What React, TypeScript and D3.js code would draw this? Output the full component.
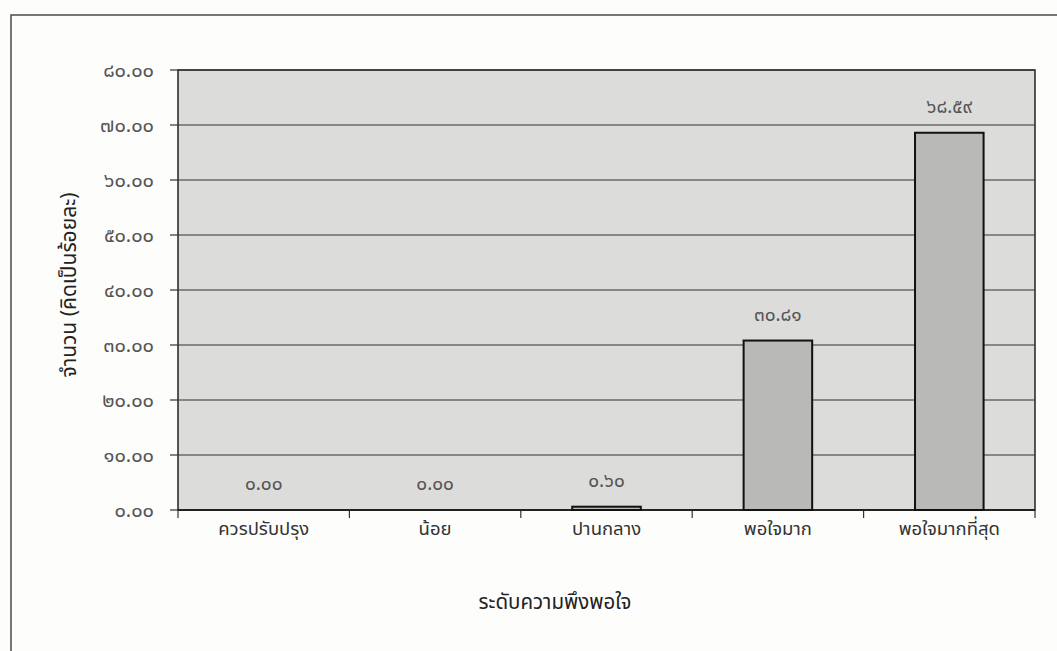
import React from "react";
import * as d3 from "d3";

const categories = ["ควรปรับปรุง", "น้อย", "ปานกลาง", "พอใจมาก", "พอใจมากที่สุด"];
const values = [0.0, 0.0, 0.6, 30.81, 68.59];
const yTicks = [0, 10, 20, 30, 40, 50, 60, 70, 80];
const yTitle = "จำนวน (คิดเป็นร้อยละ)";
const xTitle = "ระดับความพึงพอใจ";

const thaiDigits = "๐๑๒๓๔๕๖๗๘๙";
const toThai = (s: string) => s.replace(/[0-9]/g, (d) => thaiDigits[+d]);

const W = 1057;
const H = 651;
const plot = { left: 178, right: 1035, top: 70, bottom: 510 };
const FONT = "'Noto Sans Thai', 'Noto Sans', 'Loma', 'Garuda', 'Tlwg Typo', 'DejaVu Sans', sans-serif";

export default function App() {
  const x = d3
    .scaleBand<string>()
    .domain(categories)
    .range([plot.left, plot.right])
    .paddingInner(0.6)
    .paddingOuter(0.3);
  const xb = d3.scaleBand<string>().domain(categories).range([plot.left, plot.right]);
  const y = d3.scaleLinear().domain([0, 80]).range([plot.bottom, plot.top]);

  return (
    <svg
      width={W}
      height={H}
      style={{ position: "absolute", left: 0, top: 0, background: "#fdfdfb" }}
      fontFamily={FONT}
    >
      <rect x={11} y={15} width={1100} height={700} fill="none" stroke="#555" strokeWidth={1.6} />
      <rect
        x={plot.left}
        y={plot.top}
        width={plot.right - plot.left}
        height={plot.bottom - plot.top}
        fill="#dcdcda"
        stroke="#222"
        strokeWidth={1.5}
      />
      {yTicks.map((t) => (
        <g key={t}>
          <line x1={plot.left} x2={plot.right} y1={y(t)} y2={y(t)} stroke="#333" strokeWidth={1.2} />
          <line x1={plot.left - 8} x2={plot.left} y1={y(t)} y2={y(t)} stroke="#333" strokeWidth={1.2} />
          <text x={154} y={y(t)} dy="0.35em" textAnchor="end" fontSize={20} fill="#555">
            {toThai(t.toFixed(2))}
          </text>
        </g>
      ))}
      {categories.map((c) => (
        <line
          key={"t" + c}
          x1={xb(c)!}
          x2={xb(c)!}
          y1={plot.bottom}
          y2={plot.bottom + 8}
          stroke="#333"
          strokeWidth={1.2}
        />
      ))}
      <line x1={plot.right} x2={plot.right} y1={plot.bottom} y2={plot.bottom + 8} stroke="#333" strokeWidth={1.2} />
      <line x1={plot.left} x2={plot.right} y1={plot.bottom} y2={plot.bottom} stroke="#222" strokeWidth={2} />
      {categories.map((c, i) =>
        values[i] > 0 ? (
          <rect
            key={"b" + c}
            x={x(c)!}
            y={y(values[i])}
            width={x.bandwidth()}
            height={y(0) - y(values[i])}
            fill="#b9b9b7"
            stroke="#111"
            strokeWidth={2}
          />
        ) : null
      )}
      {categories.map((c, i) => (
        <text
          key={"l" + c}
          x={x(c)! + x.bandwidth() / 2}
          y={y(values[i]) - 20}
          textAnchor="middle"
          fontSize={19}
          fill="#555"
        >
          {toThai(values[i].toFixed(2))}
        </text>
      ))}
      {categories.map((c) => (
        <text
          key={"x" + c}
          x={xb(c)! + xb.bandwidth() / 2}
          y={535}
          textAnchor="middle"
          fontSize={18.5}
          fill="#333"
        >
          {c}
        </text>
      ))}
      <text x={555} y={609} textAnchor="middle" fontSize={20.5} fill="#222">
        {xTitle}
      </text>
      <text
        transform={`translate(76, ${(plot.top + plot.bottom) / 2 - 5}) rotate(-90)`}
        textAnchor="middle"
        fontSize={21}
        fill="#222"
      >
        {yTitle}
      </text>
    </svg>
  );
}
